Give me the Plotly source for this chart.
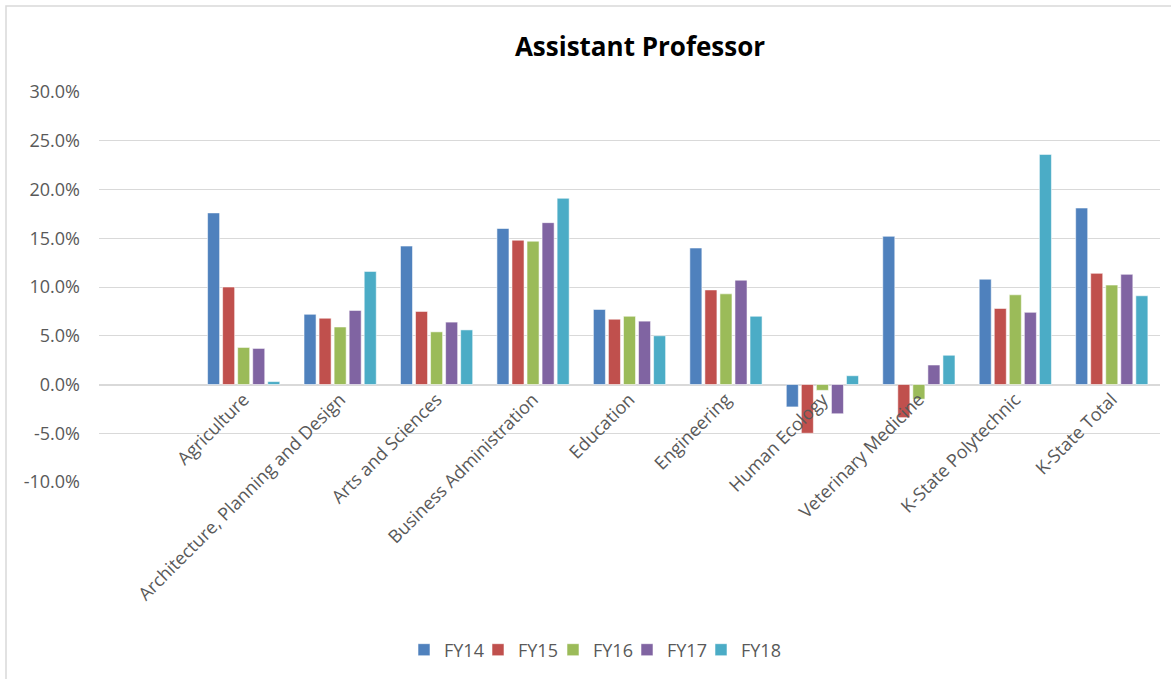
import plotly.graph_objects as go

categories = ["Agriculture", "Architecture, Planning and Design", "Arts and Sciences",
              "Business Administration", "Education", "Engineering", "Human Ecology",
              "Veterinary Medicine", "K-State Polytechnic", "K-State Total"]

fy14 = [17.6, 7.2, 14.2, 16.0, 7.7, 14.0, -2.3, 15.2, 10.8, 18.1]
fy15 = [10.0, 6.8, 7.5, 14.8, 6.7, 9.7, -5.0, -3.4, 7.8, 11.4]
fy16 = [3.8, 5.9, 5.4, 14.7, 7.0, 9.3, -0.6, -1.5, 9.2, 10.2]
fy17 = [3.7, 7.6, 6.4, 16.6, 6.5, 10.7, -3.0, 2.0, 7.4, 11.3]
fy18 = [0.3, 11.6, 5.6, 19.1, 5.0, 7.0, 0.9, 3.0, 23.6, 9.1]

series_names = ["FY14", "FY15", "FY16", "FY17", "FY18"]
series_values = [fy14, fy15, fy16, fy17, fy18]
colors = ["#4F81BD", "#C0504D", "#9BBB59", "#8064A2", "#4BACC6"]

y_tickvals = [-10, -5, 0, 5, 10, 15, 20, 25, 30]
y_ticktext = ["-10.0%", "-5.0%", "0.0%", "5.0%", "10.0%", "15.0%", "20.0%", "25.0%", "30.0%"]

FONT = "Open Sans"

W, H = 1171, 679
ml, mr, mt, mb = 99, 11, 92, 197
pw = W - ml - mr
ph = H - mt - mb

def px_x(p):
    return (p - ml) / pw

def px_y(p):
    return (H - mb - p) / ph

# legend symbol left edges (px) in the reference
legend_sym_px = [421, 495, 570, 644, 718]

fig = go.Figure()
legend_layouts = {}
for i, (name, vals, col) in enumerate(zip(series_names, series_values, colors)):
    key = "legend" if i == 0 else f"legend{i + 1}"
    fig.add_trace(go.Bar(
        x=categories, y=vals, name=name, legend=key, showlegend=True,
        marker=dict(color=col, line=dict(color="rgba(255,255,255,0.55)", width=1)),
    ))
    legend_layouts[key] = dict(
        orientation="h", x=px_x(legend_sym_px[i] - 17), xanchor="left",
        y=px_y(650), yanchor="middle", bgcolor="rgba(0,0,0,0)",
        font=dict(family=FONT, size=18, color="#595959"), itemwidth=30,
    )

fig.update_layout(
    width=W, height=H, showlegend=True,
    margin=dict(l=ml, r=mr, t=mt, b=mb, autoexpand=False),
    paper_bgcolor="white", plot_bgcolor="white",
    barmode="group", bargap=0.22, bargroupgap=0.2,
    font=dict(family=FONT, color="#595959", size=18),
    title=dict(text="<b>Assistant Professor</b>", xref="container", x=640 / W,
               xanchor="center", y=1 - 47 / H, yanchor="middle",
               font=dict(family=FONT, size=26, color="black")),
    xaxis=dict(type="category", range=[-1.5, 9.5], anchor="free", position=0.25,
               tickangle=-45, showgrid=False, showline=False, ticks="",
               tickfont=dict(family=FONT, size=18, color="#595959")),
    yaxis=dict(range=[-10, 30], tickvals=y_tickvals, ticktext=y_ticktext,
               showgrid=True, gridcolor="#D9D9D9", gridwidth=1,
               zeroline=True, zerolinecolor="#D9D9D9", zerolinewidth=1.5,
               showline=False, ticks="", ticklabelstandoff=18,
               tickfont=dict(family=FONT, size=18, color="#595959")),
    shapes=[dict(type="rect", xref="paper", yref="paper",
                 x0=px_x(6), x1=px_x(1180), y0=px_y(690), y1=px_y(6),
                 line=dict(color="#D9D9D9", width=1.5), fillcolor="rgba(0,0,0,0)",
                 layer="below")],
    **legend_layouts,
)

fig.write_html("out.html", config={"displayModeBar": False},
               post_script="document.body.style.margin='0px';")
